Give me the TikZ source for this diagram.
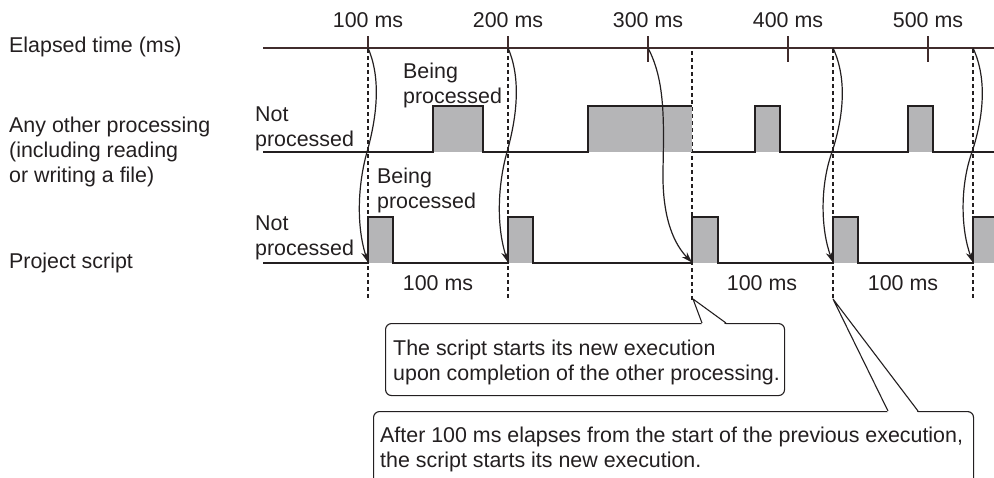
\documentclass[tikz,border=0pt]{standalone}
\usepackage{fontspec}
\setmainfont{Liberation Sans}
\usetikzlibrary{arrows.meta}
\definecolor{axiscol}{RGB}{64,44,44}
\definecolor{pulsegray}{RGB}{181,181,183}
\definecolor{inkcol}{RGB}{35,31,32}
\begin{document}
\begin{tikzpicture}[x=1pt,y=-1pt,
  every node/.style={inner sep=0pt, font=\fontsize{21.4}{25}\selectfont, text=inkcol},
  lbl/.style={anchor=base west, align=left},
  tlbl/.style={anchor=base},
  axisline/.style={line width=1.2pt, axiscol},
  sig/.style={line width=1.4pt, inkcol},
  guide/.style={dash pattern=on 4pt off 3pt, line width=1.2pt, inkcol},
  flow/.style={line width=1.2pt, inkcol, -{Stealth[length=11pt,width=7pt]}},
  callout/.style={draw=inkcol, line width=1.1pt, fill=white, rounded corners=6pt},
  pointer/.style={line width=1.1pt, inkcol, line join=round}]
\useasboundingbox (0,0) rectangle (994,477);
\clip (0,0) rectangle (994,477);

% left labels (base anchor = baseline of last line)
\node[lbl] (elapsed) at (9,52) {Elapsed time (ms)};
\node[lbl] (other) at (9,182) {Any other processing\\(including reading\\or writing a file)};
\node[lbl] (proj) at (9,268) {Project script};

% time axis
\draw[axisline] (263,48) -- (994,48);
\draw[axisline] (368,36) -- (368,48);
\draw[axisline] (508,36) -- (508,48);
\draw[axisline] (648,36) -- (648,62);
\draw[axisline] (788,36) -- (788,62);
\draw[axisline] (928,36) -- (928,62);
\node[tlbl] (m100) at (368,27) {100 ms};
\node[tlbl] (m200) at (508,27) {200 ms};
\node[tlbl] (m300) at (648,27) {300 ms};
\node[tlbl] (m400) at (788,27) {400 ms};
\node[tlbl] (m500) at (928,27) {500 ms};

% dashed guides
\foreach \gx in {368,508,833,973} \draw[guide] (\gx,49) -- (\gx,300);
\draw[guide] (692,51) -- (692,300);

% other processing row
\fill[pulsegray] (433,106) rectangle (483,152);
\fill[pulsegray] (588,106) rectangle (692,152);
\fill[pulsegray] (755,106) rectangle (780,152);
\fill[pulsegray] (908,106) rectangle (933,152);
\draw[sig] (263,152) -- (433,152) -- (433,106) -- (483,106) -- (483,152) -- (588,152) -- (588,106) -- (692,106);
\draw[sig] (692,152) -- (755,152) -- (755,106) -- (780,106) -- (780,152) -- (908,152) -- (908,106) -- (933,106) -- (933,152) -- (996,152);

% project script row
\fill[pulsegray] (368,217) rectangle (393,263);
\fill[pulsegray] (508,217) rectangle (533,263);
\fill[pulsegray] (692,217) rectangle (718,263);
\fill[pulsegray] (833,217) rectangle (858,263);
\fill[pulsegray] (973,217) rectangle (996,263);
\draw[sig] (263,263) -- (368,263) -- (368,217) -- (393,217) -- (393,263) -- (508,263) -- (508,217) -- (533,217) -- (533,263) -- (692,263) -- (692,217) -- (718,217) -- (718,263) -- (833,263) -- (833,217) -- (858,217) -- (858,263) -- (973,263) -- (973,217) -- (996,217);

% state labels
\node[lbl] (np1) at (255,146) {Not\\processed};
\node[lbl] (bp1) at (403,103) {Being\\processed};
\node[lbl] (np2) at (255,255) {Not\\processed};
\node[lbl] (bp2) at (377,208) {Being\\processed};

% interval labels
\node[tlbl] (i1) at (438,290) {100 ms};
\node[tlbl] (i2) at (762,290) {100 ms};
\node[tlbl] (i3) at (903,290) {100 ms};

% start arrows
\coordinate (s1) at (368,48);  \coordinate (e1) at (368,262.5);
\coordinate (s2) at (508,48);  \coordinate (e2) at (508,262.5);
\coordinate (s3) at (648,48);  \coordinate (e3) at (692,262.5);
\coordinate (s4) at (833,48);  \coordinate (e4) at (833,262.5);
\coordinate (s5) at (973,48);  \coordinate (e5) at (973,262.5);
\draw[flow] (s1) .. controls (382,80) and (376,120) .. (367,152) .. controls (358,184) and (356,225) .. (e1);
\draw[flow] (s2) .. controls (522,80) and (516,120) .. (507,152) .. controls (498,184) and (496,225) .. (e2);
\draw[flow] (s3) .. controls (665,80) and (664,120) .. (663,170) .. controls (662,220) and (675,245) .. (e3);
\draw[flow] (s4) .. controls (848,80) and (843,120) .. (831,155) .. controls (820,188) and (821,230) .. (e4);
\draw[flow] (s5) .. controls (988,80) and (983,120) .. (971,155) .. controls (960,188) and (961,230) .. (e5);

% callout 1
\node[callout, anchor=north west, minimum width=399pt, minimum height=72pt] (box1) at (385,323) {};
\coordinate (tip1) at (693,299);
\fill[white] (702,324.8) -- (tip1) -- (726,324.8) -- cycle;
\draw[pointer] (702,323) -- (tip1) -- (726,323);
\node[lbl] (txt1) at (393,380) {The script starts its new execution\\upon completion of the other processing.};

% callout 2
\node[callout, anchor=north west, minimum width=600pt, minimum height=100pt] (box2) at (373,411) {};
\coordinate (tip2) at (833,299);
\fill[white] (888,412.8) -- (tip2) -- (918,412.8) -- cycle;
\draw[pointer] (888,411) -- (tip2) -- (918,411);
\node[lbl] (txt2) at (380,467) {After 100 ms elapses from the start of the previous execution,\\the script starts its new execution.};
\end{tikzpicture}
\end{document}
